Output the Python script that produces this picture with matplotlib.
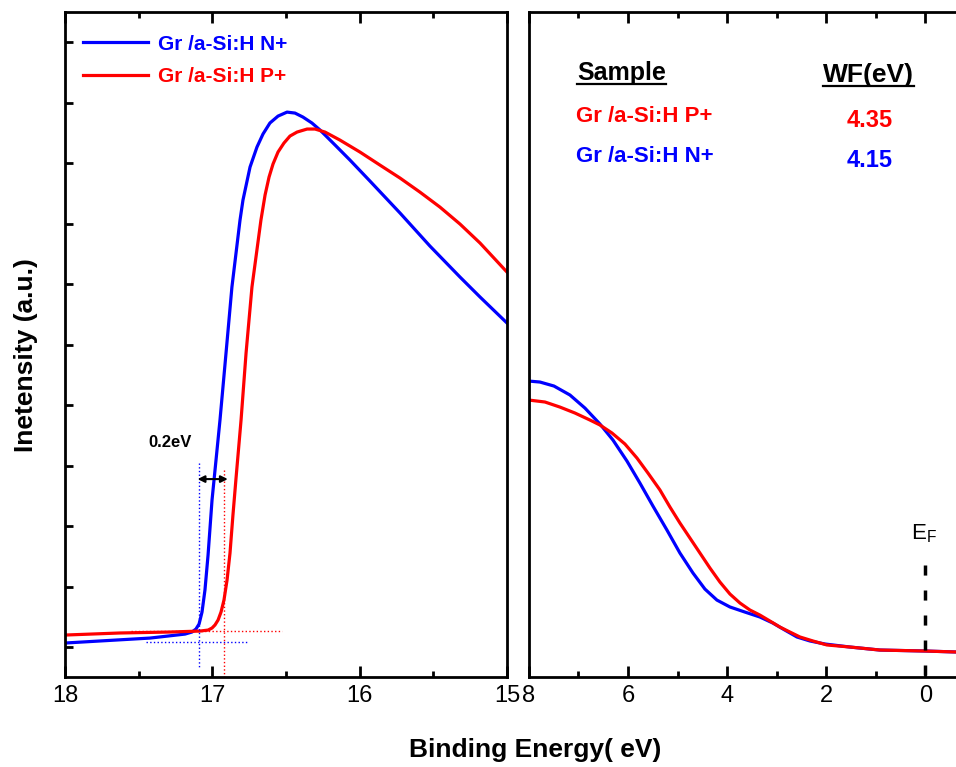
import matplotlib
matplotlib.use("Agg")
import matplotlib.pyplot as plt
from matplotlib.lines import Line2D

plt.rcParams['font.family'] = ['Liberation Sans', 'DejaVu Sans']

# ---------------- data ----------------
# secondary-electron cutoff region (left panel), binding energy in eV
n_cut_x = [18.0, 17.762, 17.423, 17.185, 17.138, 17.111, 17.090, 17.070, 17.050, 17.029,
           17.002, 16.975, 16.948, 16.907, 16.867, 16.812, 16.792, 16.744, 16.697, 16.656,
           16.609, 16.554, 16.493, 16.439, 16.385, 16.324, 16.269, 16.167, 16.066, 15.930,
           15.726, 15.523, 15.319, 15.183, 15.0]
n_cut_y = [0.033, 0.050, 0.074, 0.107, 0.124, 0.149, 0.190, 0.289, 0.471, 0.760,
           1.215, 1.545, 1.876, 2.430, 2.975, 3.529, 3.694, 3.967, 4.132, 4.240,
           4.331, 4.388, 4.421, 4.413, 4.380, 4.331, 4.273, 4.149, 4.025, 3.851,
           3.587, 3.314, 3.058, 2.893, 2.678]

p_cut_x = [18.0, 17.627, 17.287, 17.084, 17.029, 17.002, 16.982, 16.961, 16.941, 16.921,
           16.900, 16.880, 16.860, 16.839, 16.805, 16.771, 16.731, 16.670, 16.642, 16.615,
           16.588, 16.554, 16.514, 16.473, 16.425, 16.357, 16.303, 16.235, 16.134, 15.998,
           15.862, 15.726, 15.591, 15.455, 15.319, 15.183, 15.0]
p_cut_y = [0.099, 0.116, 0.124, 0.132, 0.140, 0.157, 0.182, 0.223, 0.289, 0.388,
           0.554, 0.777, 1.091, 1.397, 1.876, 2.430, 2.975, 3.529, 3.736, 3.884,
           3.992, 4.091, 4.165, 4.223, 4.256, 4.281, 4.281, 4.256, 4.190, 4.091,
           3.983, 3.876, 3.760, 3.636, 3.496, 3.339, 3.099]

# valence band region (right panel)
n_vb_x = [8.0, 7.778, 7.495, 7.173, 6.870, 6.567, 6.305, 6.022, 5.760, 5.497,
          5.215, 4.953, 4.690, 4.448, 4.206, 3.943, 3.641, 3.338, 3.076, 2.834,
          2.591, 2.329, 2.026, 1.521, 0.916, 0.008, -0.618]
n_vb_y = [2.198, 2.190, 2.157, 2.083, 1.975, 1.843, 1.711, 1.537, 1.355, 1.165,
          0.967, 0.777, 0.612, 0.479, 0.388, 0.331, 0.289, 0.248, 0.198, 0.140,
          0.083, 0.050, 0.025, 0.0, -0.025, -0.033, -0.041]

p_vb_x = [8.0, 7.677, 7.374, 7.072, 6.769, 6.567, 6.325, 6.063, 5.820, 5.598,
          5.356, 5.154, 4.953, 4.751, 4.549, 4.347, 4.145, 3.943, 3.742, 3.540,
          3.338, 3.136, 2.934, 2.733, 2.530, 2.268, 1.986, 1.521, 0.916, 0.008, -0.618]
p_vb_y = [2.041, 2.025, 1.983, 1.934, 1.876, 1.835, 1.769, 1.678, 1.562, 1.438,
          1.298, 1.157, 1.025, 0.901, 0.777, 0.653, 0.537, 0.438, 0.364, 0.306,
          0.264, 0.215, 0.165, 0.124, 0.083, 0.050, 0.017, 0.0, -0.025, -0.033, -0.041]

labels = ['Gr /a-Si:H N+', 'Gr /a-Si:H P+']
colors = ['blue', 'red']

# cutoff construction lines
n_onset, p_onset = 17.09, 16.92
n_base, p_base = 0.041, 0.132

# work functions
wf_samples = ['Gr /a-Si:H P+', 'Gr /a-Si:H N+']
wf_values = ['4.35', '4.15']
wf_colors = ['red', 'blue']

# ---------------- figure ----------------
fig = plt.figure(figsize=(9.56, 7.67), dpi=100)
ax1 = fig.add_axes([0.068, 0.1173, 0.4623, 0.867])
ax2 = fig.add_axes([0.5533, 0.1173, 0.4467, 0.867])

ylim = (-0.248, 5.248)

ax1.plot(n_cut_x, n_cut_y, color=colors[0], lw=2.3, label=labels[0])
ax1.plot(p_cut_x, p_cut_y, color=colors[1], lw=2.3, label=labels[1])

# dotted guide lines
ax1.plot([n_onset, n_onset], [1.52, -0.165], color='blue', ls=':', lw=1)
ax1.plot([p_onset, p_onset], [1.46, -0.25], color='red', ls=':', lw=1)
ax1.plot([17.45, 16.765], [n_base, n_base], color='blue', ls=':', lw=1)
ax1.plot([17.55, 16.527], [p_base, p_base], color='red', ls=':', lw=1)
ax1.annotate('', xy=(16.895, 1.388), xytext=(17.10, 1.388),
             arrowprops=dict(arrowstyle='<|-|>', color='black', lw=1.5,
                             mutation_scale=10, shrinkA=0, shrinkB=0))
ax1.text(17.29, 1.69, '0.2eV', fontsize=12, fontweight='bold', ha='center', va='center')

ax1.set_xlim(18, 15)
ax1.set_ylim(*ylim)
ax1.set_xticks([18, 17, 16, 15])
ax1.set_xticks([17.5, 16.5, 15.5], minor=True)
ax1.set_yticks([i * 0.5 for i in range(11)])
ax1.set_yticklabels([])
ax1.tick_params(axis='x', which='both', direction='in', top=True, labelsize=17, pad=6, width=2)
ax1.tick_params(axis='x', which='major', length=8)
ax1.tick_params(axis='x', which='minor', length=4)
ax1.tick_params(axis='y', direction='in', length=6, width=2)

leg = ax1.legend(loc='upper left', bbox_to_anchor=(0.0407, 0.966), frameon=False,
                 borderpad=0, borderaxespad=0, handlelength=3.1, handletextpad=0.5,
                 labelspacing=0.65, prop={'weight': 'bold', 'size': 15})
for txt, c in zip(leg.get_texts(), colors):
    txt.set_color(c)

ax2.plot(n_vb_x, n_vb_y, color=colors[0], lw=2.3)
ax2.plot(p_vb_x, p_vb_y, color=colors[1], lw=2.3)
ax2.plot([0, 0], [0.678, ylim[0]], color='black', lw=2.5, dashes=[2.9, 4.3])
ax2.text(0.03, 0.94, r'E$_\mathregular{F}$', fontsize=16, ha='center', va='center')

ax2.set_xlim(8, -0.62)
ax2.set_ylim(*ylim)
ax2.set_xticks([8, 6, 4, 2, 0])
ax2.set_xticks([7, 5, 3, 1], minor=True)
ax2.set_yticks([])
ax2.spines['right'].set_visible(False)
ax2.tick_params(axis='x', which='both', direction='in', top=True, labelsize=17, pad=6, width=2)
ax2.tick_params(axis='x', which='major', length=8)
ax2.tick_params(axis='x', which='minor', length=4)

for ax in (ax1, ax2):
    for sp in ax.spines.values():
        sp.set_linewidth(2)

# work-function table
h1 = ax2.text(7.03, 4.744, 'Sample', fontsize=18, fontweight='bold', va='center')
h2 = ax2.text(2.067, 4.727, 'WF(eV)', fontsize=19, fontweight='bold', va='center')
row_y = [4.388, 4.05]
for name, val, c, yy in zip(wf_samples, wf_values, wf_colors, row_y):
    ax2.text(7.05, yy, name, fontsize=16, fontweight='bold', color=c, va='center')
    ax2.text(1.58, yy - 0.033, val, fontsize=17, fontweight='bold', color=c, va='center')

# underline headers
fig.canvas.draw()
inv = ax2.transData.inverted()
for t in (h1, h2):
    bb = t.get_window_extent()
    (xa, ya), (xb, yb) = inv.transform([(bb.x0, bb.y0 + 1), (bb.x1, bb.y0 + 1)])
    ax2.add_line(Line2D([xa, xb], [ya, yb], color='black', lw=1.6))

fig.text(0.027, 0.537, 'Inetensity (a.u.)', rotation=90, fontsize=19,
         fontweight='bold', ha='center', va='center')
fig.text(0.5596, 0.022, 'Binding Energy( eV)', fontsize=19, fontweight='bold',
         ha='center', va='center')

fig.savefig('out.png', dpi=100)
